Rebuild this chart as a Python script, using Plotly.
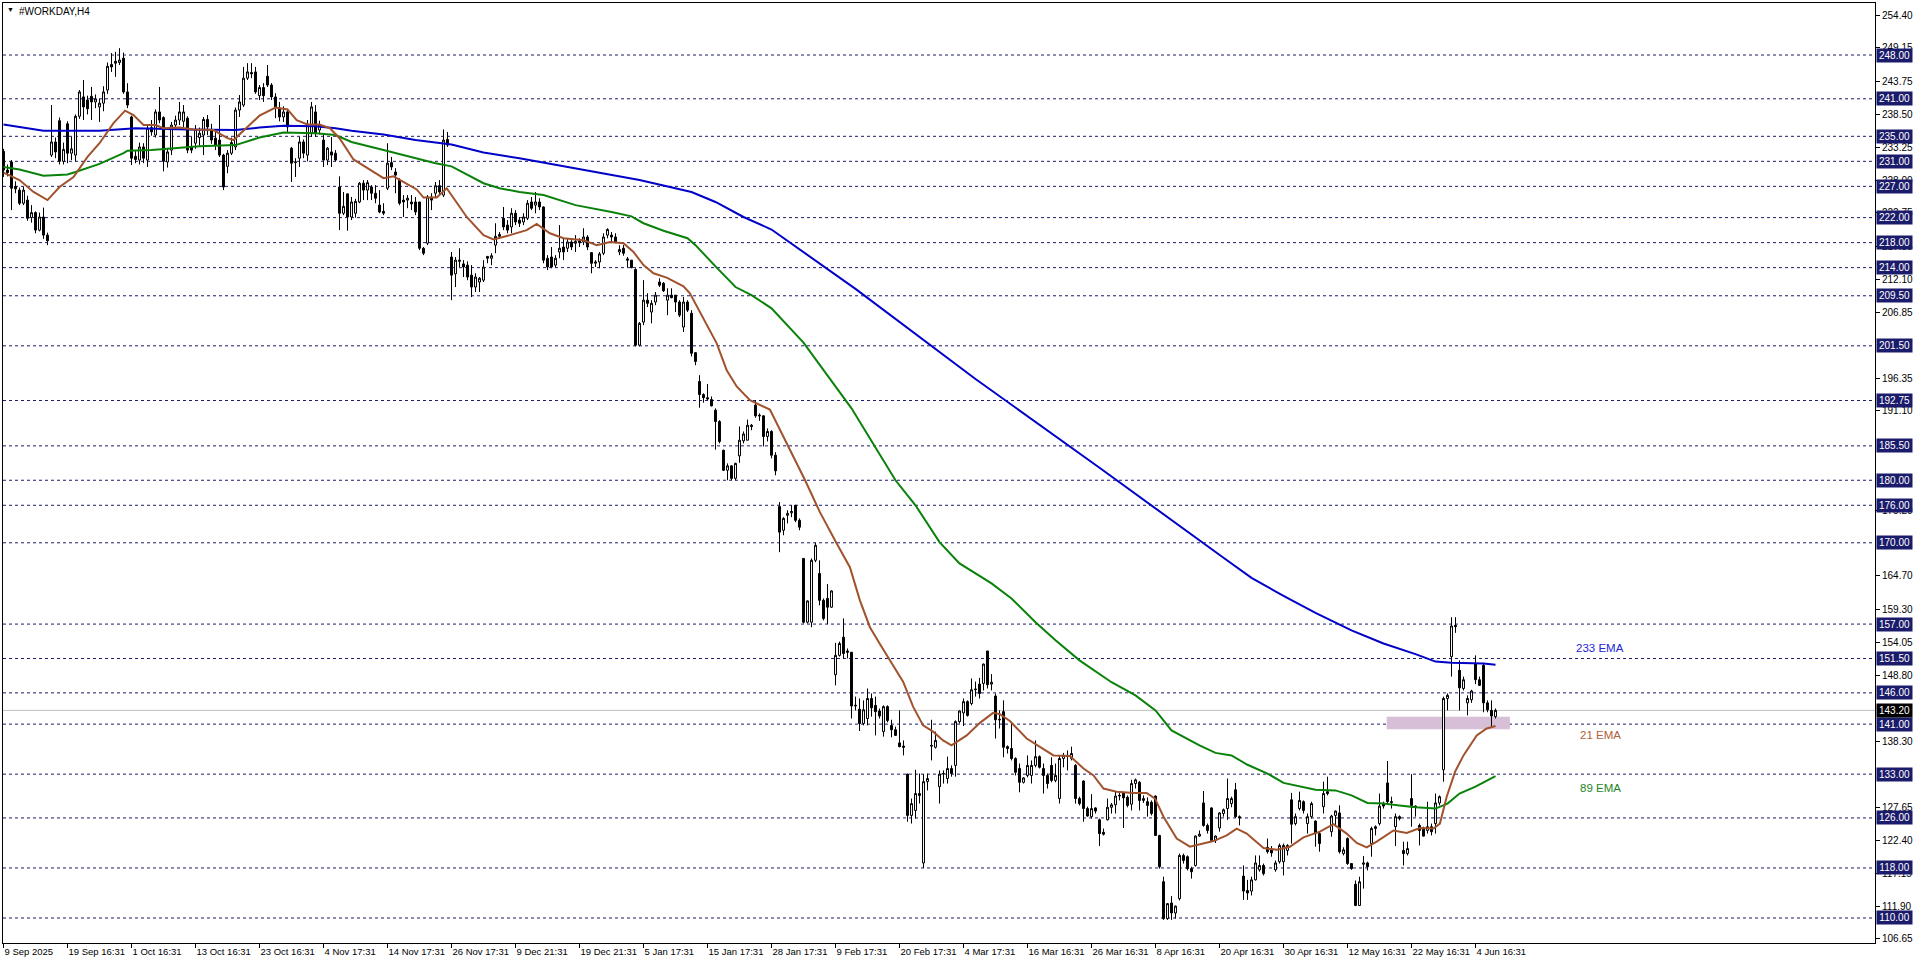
import plotly.graph_objects as go

# ---------------- data ----------------
opens = [
    232.6, 229.6, 230.9, 227.0, 226.4, 224.3, 224.8, 222.0, 222.8, 220.0,
    222.1, 219.2, 232.0, 234.1, 237.5, 231.0, 237.0, 232.3, 232.0, 238.2,
    241.3, 240.8, 241.4, 240.5, 239.7, 240.3, 242.4, 246.5, 247.0, 246.8,
    247.5, 242.1, 238.1, 231.8, 231.2, 233.3, 231.2, 236.4, 235.2, 238.9,
    238.0, 230.9, 232.8, 236.8, 237.6, 237.4, 237.9, 233.3, 233.9, 234.8,
    235.2, 237.7, 236.0, 234.7, 234.4, 232.0, 230.2, 232.3, 233.3, 239.2,
    240.0, 244.3, 245.2, 245.3, 241.5, 242.8, 244.6, 243.2, 241.3, 239.5,
    238.1, 238.9, 233.1, 230.8, 231.5, 234.1, 232.0, 235.5, 238.9, 236.0,
    234.4, 231.2, 232.5, 232.3, 226.9, 222.7, 225.8, 222.1, 222.7, 224.5,
    227.5, 226.4, 226.9, 225.9, 224.0, 223.0, 226.7, 230.8, 229.3, 228.0,
    224.8, 224.8, 224.5, 224.5, 224.5, 217.1, 217.9, 225.3, 225.9, 227.1,
    225.6, 234.5, 215.7, 213.0, 215.0, 214.6, 214.4, 212.8, 210.9, 211.7,
    212.0, 215.8, 215.5, 217.6, 219.0, 221.9, 220.8, 220.5, 222.7, 221.6,
    221.3, 221.9, 224.5, 224.0, 224.5, 223.7, 215.5, 215.7, 214.4, 216.5,
    217.3, 217.1, 218.1, 217.9, 218.3, 218.1, 218.9, 216.4, 214.7, 214.9,
    216.3, 219.2, 219.2, 218.9, 216.5, 217.1, 215.4, 215.2, 213.7, 201.6,
    205.3, 208.8, 206.9, 208.5, 211.7, 211.5, 208.8, 209.6, 209.6, 208.5,
    204.5, 208.5, 206.7, 200.4, 195.8, 193.7, 193.2, 192.9, 191.2, 189.4,
    184.8, 181.6, 182.3, 180.3, 183.9, 186.3, 186.4, 188.8, 192.0, 190.4,
    190.3, 187.0, 187.8, 184.0, 175.8, 172.0, 174.4, 174.8, 176.0, 173.6,
    167.5, 157.3, 157.3, 167.2, 165.1, 160.8, 161.1, 159.7, 148.9, 152.0,
    154.9, 152.7, 152.5, 143.9, 143.4, 141.1, 141.9, 145.1, 144.0, 143.1,
    139.8, 143.8, 140.8, 140.1, 138.0, 137.5, 133.0, 126.4, 127.2, 129.9,
    118.8, 131.8, 137.6, 137.3, 131.0, 133.0, 132.3, 133.9, 134.4, 141.4,
    142.8, 144.6, 144.3, 146.5, 147.4, 147.5, 152.7, 147.4, 145.5, 141.8,
    143.0, 137.4, 137.1, 135.5, 133.9, 131.7, 132.8, 132.8, 134.4, 135.8,
    133.9, 132.8, 134.4, 132.0, 129.1, 135.5, 136.0, 135.5, 134.4, 129.1,
    131.9, 127.5, 126.2, 127.6, 125.7, 123.7, 125.7, 127.7, 128.1, 129.5,
    130.0, 129.3, 128.2, 131.5, 131.7, 128.8, 128.6, 128.5, 129.5, 123.2,
    115.8, 109.9, 112.4, 110.8, 113.1, 120.0, 119.8, 117.9, 118.4, 123.1,
    128.4, 124.8, 127.6, 122.4, 124.4, 126.7, 127.5, 128.3, 130.5, 126.2,
    116.7, 114.4, 114.3, 116.1, 117.7, 118.4, 121.3, 121.0, 117.7, 119.0,
    119.0, 120.8, 128.9, 125.1, 127.5, 128.6, 125.1, 126.2, 125.5, 123.5,
    127.8, 130.2, 123.8, 126.4, 126.8, 120.3, 122.7, 118.7, 115.4, 112.0,
    118.6, 118.8, 121.9, 124.3, 125.1, 128.3, 131.6, 128.6, 124.6, 126.2,
    120.8, 120.3, 129.1, 127.9, 124.8, 124.3, 124.0, 124.6, 125.1, 128.4,
    133.7, 145.1, 151.8, 156.8, 149.6, 146.7, 144.4, 144.9, 150.7, 148.1,
    150.4, 144.4, 143.2, 142.2,
]
highs = [
    233.0, 230.5, 231.2, 227.8, 226.8, 226.9, 225.5, 224.0, 223.0, 222.8,
    223.6, 219.6, 240.0, 234.8, 238.0, 234.0, 237.4, 234.9, 238.5, 242.4,
    244.0, 241.5, 242.9, 241.7, 241.0, 243.0, 246.8, 248.3, 248.5, 249.1,
    248.4, 243.5, 238.3, 232.8, 234.0, 233.9, 236.8, 237.6, 239.3, 242.9,
    238.2, 233.0, 237.3, 238.3, 240.5, 240.0, 238.2, 234.9, 236.8, 236.4,
    238.1, 238.4, 237.0, 236.0, 240.0, 232.2, 232.8, 234.8, 239.6, 241.6,
    246.1, 246.7, 246.7, 246.1, 243.2, 243.5, 246.4, 243.5, 241.9, 240.5,
    239.8, 239.4, 233.3, 231.5, 234.9, 234.5, 237.6, 240.5, 240.0, 237.5,
    235.5, 233.3, 234.9, 232.8, 228.6, 226.1, 225.8, 225.3, 225.0, 227.7,
    228.0, 228.0, 227.2, 227.2, 226.4, 224.3, 233.9, 231.7, 229.9, 228.3,
    225.6, 225.6, 225.6, 225.3, 224.5, 217.3, 225.6, 225.9, 227.7, 228.0,
    236.1, 235.7, 216.5, 215.7, 217.1, 215.2, 215.0, 214.4, 213.1, 212.5,
    215.2, 215.8, 216.3, 221.1, 219.7, 223.7, 221.6, 223.5, 223.2, 222.1,
    222.7, 224.8, 225.3, 226.1, 225.1, 223.8, 216.0, 217.3, 216.0, 220.8,
    218.7, 218.7, 218.4, 219.2, 218.7, 220.3, 219.2, 216.5, 215.2, 216.5,
    219.5, 220.3, 219.7, 219.5, 217.6, 217.6, 215.7, 215.2, 213.9, 205.3,
    212.0, 209.9, 208.8, 210.1, 212.3, 211.7, 210.7, 210.7, 209.6, 208.8,
    209.3, 208.8, 207.2, 200.5, 196.8, 193.9, 195.4, 193.4, 191.5, 189.6,
    184.9, 182.7, 182.4, 182.8, 188.6, 187.8, 189.7, 189.0, 192.8, 190.7,
    190.4, 188.3, 188.0, 184.5, 176.5, 174.1, 175.2, 176.0, 176.0, 173.9,
    167.5, 160.8, 167.5, 170.0, 167.2, 161.1, 163.4, 162.4, 154.0, 154.2,
    157.9, 153.1, 152.5, 145.4, 145.1, 144.8, 146.7, 145.9, 145.4, 143.5,
    144.0, 144.0, 141.7, 140.6, 143.2, 138.4, 133.1, 129.1, 133.7, 133.1,
    133.0, 133.1, 141.7, 139.8, 133.6, 133.6, 135.8, 134.4, 141.6, 143.2,
    145.1, 144.8, 148.3, 147.8, 148.4, 150.7, 152.7, 149.0, 145.9, 143.2,
    144.8, 137.6, 141.1, 135.7, 134.7, 132.5, 136.0, 135.2, 138.4, 136.0,
    134.7, 133.1, 135.7, 134.7, 136.0, 136.4, 136.8, 137.4, 134.6, 129.4,
    132.0, 127.8, 129.8, 127.7, 125.9, 124.3, 129.1, 128.4, 130.3, 130.3,
    130.1, 129.6, 132.1, 132.3, 131.9, 129.6, 129.3, 128.8, 129.6, 123.3,
    116.6, 112.4, 113.5, 112.0, 120.3, 120.3, 120.0, 118.2, 123.2, 124.0,
    130.3, 125.1, 127.7, 123.2, 126.9, 127.5, 132.3, 129.4, 131.6, 126.4,
    118.4, 116.1, 116.6, 120.0, 120.0, 118.7, 122.7, 121.5, 119.2, 121.9,
    121.9, 121.8, 130.0, 126.7, 130.2, 128.8, 126.7, 128.6, 125.6, 123.8,
    131.8, 132.6, 126.5, 127.2, 128.0, 121.3, 122.9, 118.8, 116.0, 116.6,
    119.9, 119.0, 124.6, 124.8, 129.9, 128.6, 135.1, 129.4, 126.7, 126.4,
    122.2, 122.2, 133.0, 128.0, 125.1, 124.6, 128.6, 125.1, 129.9, 129.6,
    145.4, 145.9, 158.1, 158.1, 151.2, 148.6, 145.6, 146.5, 152.0, 148.6,
    150.7, 144.8, 144.8, 143.5,
]
lows = [
    228.5, 228.6, 223.2, 225.9, 224.0, 224.0, 221.5, 221.2, 219.5, 219.8,
    218.6, 217.6, 231.7, 231.5, 230.5, 230.5, 230.7, 231.2, 231.0, 237.8,
    237.6, 238.5, 237.6, 239.5, 237.3, 239.0, 241.8, 245.3, 244.5, 246.4,
    241.8, 239.5, 230.4, 230.7, 230.5, 230.7, 230.1, 235.1, 234.8, 237.1,
    229.4, 230.0, 232.0, 236.0, 236.8, 236.5, 232.3, 232.3, 233.0, 233.5,
    232.0, 235.2, 233.8, 232.8, 231.7, 226.4, 229.1, 232.0, 232.8, 238.1,
    239.7, 244.0, 244.3, 241.8, 240.8, 240.5, 242.9, 240.8, 237.9, 237.4,
    237.3, 235.7, 227.7, 228.5, 230.1, 231.5, 231.0, 234.9, 234.9, 235.3,
    230.1, 230.4, 230.1, 231.0, 220.0, 222.4, 219.9, 221.6, 222.0, 224.3,
    224.8, 224.8, 224.8, 224.3, 222.7, 222.4, 226.4, 229.6, 225.9, 224.0,
    222.1, 223.5, 223.2, 222.4, 216.8, 216.0, 217.6, 223.2, 225.3, 225.6,
    225.3, 233.3, 208.8, 210.9, 214.1, 212.5, 212.0, 209.3, 210.1, 210.1,
    211.7, 214.7, 214.4, 216.3, 218.7, 220.0, 219.5, 219.5, 220.8, 220.5,
    220.8, 221.6, 223.2, 222.7, 223.2, 214.7, 213.6, 213.9, 214.0, 215.5,
    215.2, 216.5, 216.8, 216.5, 217.3, 217.6, 216.8, 213.1, 214.1, 213.9,
    216.0, 218.7, 218.1, 217.9, 216.0, 215.9, 214.1, 213.9, 201.4, 201.4,
    204.8, 207.7, 205.1, 208.0, 210.9, 210.1, 206.4, 209.1, 206.9, 206.1,
    203.7, 206.9, 199.8, 198.4, 191.6, 192.4, 192.8, 191.8, 184.9, 185.9,
    181.5, 180.0, 180.0, 180.0, 182.8, 185.9, 186.4, 188.0, 190.0, 189.5,
    185.4, 186.2, 183.5, 180.8, 168.5, 171.2, 173.1, 174.1, 173.3, 172.0,
    157.1, 157.1, 156.5, 166.9, 160.0, 157.6, 157.0, 159.6, 147.2, 151.8,
    151.5, 151.5, 141.9, 143.2, 139.9, 140.8, 140.8, 142.2, 139.2, 141.9,
    139.0, 141.3, 138.9, 139.1, 137.3, 136.0, 125.4, 125.1, 125.9, 128.3,
    118.0, 130.4, 135.2, 137.1, 128.3, 131.5, 131.5, 132.6, 132.6, 141.1,
    140.7, 142.2, 144.0, 145.4, 145.1, 146.4, 146.7, 146.4, 138.7, 140.3,
    135.7, 136.3, 135.2, 132.8, 130.1, 131.5, 132.5, 131.5, 134.1, 133.9,
    129.9, 130.7, 131.7, 131.7, 128.3, 134.1, 133.6, 135.2, 128.3, 128.0,
    125.4, 126.2, 125.9, 126.7, 121.5, 123.2, 125.6, 126.7, 126.7, 128.8,
    124.4, 127.7, 127.2, 130.7, 127.2, 128.4, 126.2, 126.4, 123.1, 117.9,
    109.7, 109.7, 109.7, 109.9, 112.8, 118.7, 117.6, 116.3, 118.2, 123.0,
    124.6, 123.5, 122.2, 122.0, 123.8, 126.2, 125.7, 127.7, 126.0, 124.8,
    112.9, 112.9, 113.6, 116.0, 117.4, 116.8, 120.3, 119.8, 117.4, 118.7,
    116.8, 120.0, 121.9, 124.8, 127.2, 126.7, 123.5, 125.9, 121.4, 120.6,
    126.7, 129.6, 123.0, 124.6, 120.3, 120.0, 118.5, 117.7, 111.9, 111.9,
    114.7, 117.6, 119.8, 123.2, 124.8, 127.5, 128.3, 127.5, 121.5, 125.6,
    118.4, 120.0, 124.6, 126.2, 121.6, 123.0, 123.5, 123.2, 123.5, 128.0,
    131.8, 143.2, 148.6, 155.6, 143.2, 146.4, 142.4, 144.4, 147.4, 147.1,
    142.9, 142.9, 140.6, 141.9,
]
closes = [
    229.6, 229.2, 226.7, 226.6, 224.3, 226.4, 221.9, 222.8, 220.0, 222.1,
    219.2, 218.3, 234.1, 232.5, 231.0, 232.9, 232.3, 233.0, 238.2, 242.1,
    239.7, 239.4, 240.5, 241.0, 240.3, 242.1, 246.2, 246.1, 246.7, 247.2,
    242.1, 240.0, 231.5, 231.3, 233.3, 231.5, 236.3, 235.7, 238.9, 237.6,
    231.0, 232.5, 236.8, 237.6, 238.9, 238.9, 232.8, 232.8, 236.1, 235.5,
    237.7, 236.5, 234.4, 233.6, 232.0, 226.9, 232.3, 234.0, 239.2, 240.5,
    244.3, 245.3, 245.0, 242.1, 242.8, 241.5, 243.2, 241.3, 239.7, 238.1,
    238.9, 236.5, 230.7, 230.9, 234.1, 232.3, 236.8, 239.7, 235.5, 236.8,
    231.2, 233.1, 232.0, 231.2, 222.7, 223.8, 222.1, 224.5, 224.6, 227.5,
    226.4, 227.6, 225.9, 225.1, 222.9, 222.7, 230.7, 230.1, 228.8, 224.3,
    224.5, 225.1, 224.2, 222.9, 217.1, 216.3, 225.3, 224.8, 227.1, 226.1,
    234.4, 233.6, 212.8, 215.2, 215.2, 214.1, 212.5, 210.9, 212.5, 212.3,
    214.1, 215.5, 215.9, 219.0, 219.3, 220.5, 220.0, 222.7, 221.3, 221.1,
    222.1, 224.3, 223.5, 224.5, 223.7, 215.2, 214.1, 214.1, 215.5, 217.1,
    216.5, 218.1, 217.3, 218.2, 218.0, 218.9, 217.3, 214.7, 214.9, 216.2,
    218.9, 220.1, 218.9, 218.1, 216.9, 216.3, 215.2, 214.0, 201.6, 205.1,
    208.8, 208.3, 208.3, 209.6, 211.2, 210.3, 209.6, 209.2, 208.5, 206.4,
    208.5, 207.2, 200.3, 199.0, 193.7, 193.2, 193.0, 191.9, 189.4, 186.2,
    181.6, 182.3, 180.3, 182.7, 186.4, 187.4, 188.8, 188.6, 190.3, 190.3,
    187.0, 187.8, 184.0, 181.5, 171.7, 173.9, 174.7, 175.0, 173.6, 172.5,
    157.3, 160.7, 167.2, 169.6, 160.8, 157.9, 159.7, 162.3, 152.0, 153.9,
    152.3, 152.5, 143.9, 144.0, 141.1, 143.3, 145.1, 143.6, 143.0, 142.3,
    143.8, 141.6, 140.1, 139.2, 137.4, 137.3, 126.4, 128.3, 129.9, 129.6,
    131.8, 132.3, 137.5, 138.4, 133.0, 133.1, 133.9, 133.1, 141.4, 143.1,
    144.6, 142.4, 146.5, 146.6, 145.9, 150.6, 147.3, 147.7, 141.7, 141.7,
    137.3, 137.1, 135.5, 133.3, 131.7, 132.4, 134.4, 134.4, 135.8, 134.1,
    132.8, 131.5, 132.0, 132.8, 135.5, 136.0, 135.8, 136.3, 129.1, 128.3,
    127.5, 126.3, 127.5, 127.1, 123.5, 123.4, 127.7, 128.1, 129.5, 129.6,
    129.2, 128.0, 131.5, 132.1, 128.8, 129.1, 128.0, 126.7, 123.2, 118.2,
    109.9, 112.3, 110.8, 111.9, 120.0, 119.2, 117.9, 117.4, 123.1, 123.4,
    124.8, 124.0, 122.4, 123.1, 126.8, 127.3, 129.1, 129.1, 126.2, 126.0,
    114.3, 114.0, 116.1, 118.8, 118.4, 117.1, 120.6, 120.4, 118.8, 121.6,
    121.6, 121.6, 125.0, 126.2, 128.8, 127.2, 126.2, 128.3, 123.5, 121.9,
    129.9, 129.9, 126.3, 127.1, 120.6, 120.9, 118.7, 117.9, 112.0, 115.8,
    118.8, 118.2, 124.3, 124.6, 127.9, 127.9, 128.6, 128.5, 126.2, 125.9,
    120.3, 121.1, 128.0, 127.7, 124.0, 123.1, 124.6, 123.8, 128.4, 129.4,
    145.1, 145.6, 156.7, 156.6, 146.8, 148.1, 145.1, 146.3, 148.1, 147.2,
    144.4, 143.3, 142.3, 143.2,
]

x_tick_bars = [0, 16, 32, 48, 64, 80, 96, 112, 128, 144, 160, 176, 192, 208,
               224, 240, 256, 272, 288, 304, 320, 336, 352, 368]
x_tick_labels = ["9 Sep 2025", "19 Sep 16:31", "1 Oct 16:31", "13 Oct 16:31",
                 "23 Oct 16:31", "4 Nov 17:31", "14 Nov 17:31", "26 Nov 17:31",
                 "9 Dec 21:31", "19 Dec 21:31", "5 Jan 17:31", "15 Jan 17:31",
                 "28 Jan 17:31", "9 Feb 17:31", "20 Feb 17:31", "4 Mar 17:31",
                 "16 Mar 16:31", "26 Mar 16:31", "8 Apr 16:31", "20 Apr 16:31",
                 "30 Apr 16:31", "12 May 16:31", "22 May 16:31", "4 Jun 16:31"]

# price-scale labels that remain (partly) visible beside the level boxes
y_tick_vals = [254.40, 249.15, 243.75, 238.50, 233.25, 228.00, 222.75, 217.35,
               212.10, 206.85, 196.35, 191.10, 175.20, 164.70, 159.30, 154.05,
               148.80, 138.30, 127.65, 122.40, 117.15, 111.90, 106.65]

level_prices = [248.00, 241.00, 235.00, 231.00, 227.00, 222.00, 218.00, 214.00,
                209.50, 201.50, 192.75, 185.50, 180.00, 176.00, 170.00, 157.00,
                151.50, 146.00, 141.00, 133.00, 126.00, 118.00, 110.00]
current_price = 143.20

ema233_x = [0, 10, 24, 33, 46, 58, 64, 70, 78, 83, 87, 95, 103, 112, 120, 129,
            159, 172, 178, 185, 192, 213, 243, 274, 305, 312, 320, 328, 337,
            345, 353, 358, 362, 370, 373]
ema233_y = [236.9, 235.9, 235.9, 236.3, 236.1, 236.0, 236.4, 236.7, 236.6, 236.3,
            235.9, 235.3, 234.4, 233.7, 232.4, 231.5, 228.0, 226.1, 224.5, 222.1,
            220.1, 210.6, 196.2, 182.0, 167.6, 164.4, 161.5, 158.8, 156.0, 153.9,
            152.2, 151.0, 150.8, 150.7, 150.5]

ema89_x = [0, 4, 10, 16, 18, 24, 30, 31, 37, 43, 49, 58, 64, 70, 78, 83, 87, 95,
           103, 108, 112, 120, 124, 129, 135, 143, 152, 157, 160, 165, 171, 173,
           178, 183, 187, 192, 200, 212, 223, 228, 234, 239, 247, 252, 258, 263,
           269, 277, 283, 288, 292, 299, 303, 307, 311, 316, 320, 328, 333, 337,
           341, 345, 349, 353, 358, 361, 364, 368, 373]
ema89_y = [230.1, 229.7, 228.7, 228.9, 229.3, 230.6, 232.3, 232.7, 232.8, 233.1,
           233.4, 233.6, 234.8, 235.6, 235.5, 235.2, 234.1, 232.8, 231.5, 230.7,
           230.2, 227.5, 226.7, 226.1, 225.6, 224.0, 222.9, 222.2, 221.1, 219.9,
           218.7, 217.6, 214.2, 210.9, 209.6, 207.5, 202.0, 191.5, 180.0, 176.0,
           170.1, 166.7, 163.5, 161.1, 157.3, 154.4, 151.2, 147.7, 145.6, 143.2,
           140.0, 137.6, 136.4, 136.0, 134.5, 133.1, 131.6, 130.5, 130.4, 129.6,
           128.4, 128.3, 128.0, 127.7, 127.5, 128.3, 129.9, 131.0, 132.7]

ema21_x = [0, 4, 7.5, 11, 14, 17.5, 21, 24, 27.5, 30.4, 32.5, 35, 38, 40, 44,
           47.5, 52.5, 56, 57.5, 60.8, 64, 68, 71, 73.3, 76, 79, 81.6, 84, 87.5,
           91, 95, 97.5, 100, 103.3, 105, 108.3, 110.8, 115.8, 120, 122.5, 126.6,
           130.8, 133.3, 136.6, 140, 145, 148.3, 151.6, 155, 157.5, 160, 162.5,
           165.8, 170, 171.6, 174.1, 178.3, 180.8, 183.3, 186.6, 191.6, 200.4,
           204.1, 208.3, 211.6, 214.1, 216.6, 219.1, 222.4, 224.9, 227.4, 229.9,
           232.4, 234.9, 237, 240.8, 244.1, 247.4, 249.1, 251.6, 255.8, 259.1,
           262.5, 266.6, 270, 272.5, 275, 278.3, 282.5, 285.8, 287.9, 290, 293.3,
           296.6, 299.1, 302.5, 305.8, 308.3, 310.8, 315, 318.3, 321.6, 325,
           329.1, 332.5, 335.8, 338.3, 340.8, 343.3, 347.5, 350.8, 354.1, 357.5,
           359.1, 360.8, 362.9, 365, 368.3, 370.8, 373]
ema21_y = [229.2, 228.0, 226.1, 224.8, 226.9, 228.5, 231.7, 233.9, 237.1, 239.1,
           238.4, 236.8, 236.8, 236.3, 236.4, 236.1, 236.0, 234.7, 234.4, 236.4,
           238.3, 239.6, 239.3, 237.6, 236.9, 236.9, 236.3, 234.7, 231.3, 229.9,
           228.3, 228.6, 227.7, 226.5, 225.2, 225.2, 226.7, 222.1, 219.2, 218.5,
           219.2, 220.0, 221.0, 219.5, 218.7, 218.4, 217.6, 218.1, 217.9, 216.5,
           214.4, 213.1, 212.4, 211.0, 209.9, 206.9, 201.9, 197.6, 195.0, 192.8,
           191.3, 180.0, 174.9, 169.9, 166.1, 160.8, 156.5, 153.8, 150.4, 147.8,
           143.8, 140.8, 139.8, 138.4, 137.6, 139.2, 141.2, 142.8, 142.6, 141.5,
           138.7, 137.3, 136.0, 135.9, 133.9, 132.8, 130.7, 130.2, 130.0, 130.0,
           129.1, 126.2, 122.7, 121.4, 121.8, 122.3, 123.2, 124.3, 123.5, 121.2,
           120.9, 121.4, 122.9, 123.8, 125.0, 123.5, 122.0, 121.3, 122.2, 124.0,
           123.6, 124.4, 124.3, 125.1, 129.4, 133.4, 136.0, 139.2, 140.3, 140.7]

zone_bars = [345.8, 376.6]
zone_prices = [140.2, 142.2]

n = len(closes)
if not (len(opens) == len(highs) == len(lows) == n):
    raise ValueError(f"length mismatch {len(opens)} {len(highs)} {len(lows)} {n}")
if len(ema233_x) != len(ema233_y) or len(ema89_x) != len(ema89_y) or len(ema21_x) != len(ema21_y):
    raise ValueError("ema length mismatch")
bars = list(range(n))

# ---------------- figure ----------------
FONT = "Liberation Sans, Arial, sans-serif"
NAVY = "#1B1B6B"
W, H = 1916, 963
L, R, T, B = 3, 41, 3, 20
PW, PH = W - L - R, H - T - B


def px_x(px):
    return (px - L) / PW


def px_y(py):
    return (H - B - py) / PH


fig = go.Figure()

fig.add_trace(go.Candlestick(
    x=bars, open=opens, high=highs, low=lows, close=closes,
    increasing=dict(line=dict(color="black", width=1), fillcolor="white"),
    decreasing=dict(line=dict(color="black", width=1), fillcolor="black"),
    whiskerwidth=0, hoverinfo="skip", showlegend=False,
))
fig.add_trace(go.Scatter(x=ema233_x, y=ema233_y, mode="lines",
                         line=dict(color="#0000C8", width=2), showlegend=False, hoverinfo="skip"))
fig.add_trace(go.Scatter(x=ema89_x, y=ema89_y, mode="lines",
                         line=dict(color="#0A820A", width=2), showlegend=False, hoverinfo="skip"))
fig.add_trace(go.Scatter(x=ema21_x, y=ema21_y, mode="lines",
                         line=dict(color="#A0522D", width=2), showlegend=False, hoverinfo="skip"))

shapes = []
shapes.append(dict(type="rect", xref="x", yref="y", x0=zone_bars[0], x1=zone_bars[1],
                   y0=zone_prices[0], y1=zone_prices[1], fillcolor="#D8BFD8",
                   line=dict(width=0), layer="below"))
for lv in level_prices:
    shapes.append(dict(type="line", xref="paper", yref="y", x0=0, x1=1, y0=lv, y1=lv,
                       line=dict(color=NAVY, width=1, dash="3px,3px"), layer="below"))
shapes.append(dict(type="line", xref="paper", yref="y", x0=0, x1=1, y0=current_price,
                   y1=current_price, line=dict(color="#C0C0C0", width=1), layer="below"))

annotations = []
for lv in level_prices:
    annotations.append(dict(xref="paper", yref="y", x=1, y=lv, xanchor="left", yanchor="middle",
                            xshift=1, text=f"{lv:.2f}", showarrow=False, bgcolor=NAVY,
                            font=dict(family=FONT, size=10, color="white"),
                            width=33, height=11, borderpad=1, align="center"))
annotations.append(dict(xref="paper", yref="y", x=1, y=current_price, xanchor="left",
                        yanchor="middle", xshift=1, text=f"{current_price:.2f}", showarrow=False,
                        bgcolor="black", font=dict(family=FONT, size=10, color="white"),
                        width=33, height=11, borderpad=1, align="center"))
annotations.append(dict(xref="paper", yref="paper", x=px_x(10), y=px_y(10), xanchor="center",
                        yanchor="middle", text="▼", showarrow=False,
                        font=dict(family=FONT, size=7, color="black")))
annotations.append(dict(xref="paper", yref="paper", x=px_x(17), y=px_y(11), xanchor="left",
                        yanchor="middle", text="#WORKDAY,H4", showarrow=False,
                        font=dict(family=FONT, size=10, color="black")))
annotations.append(dict(xref="paper", yref="paper", x=px_x(1600), y=px_y(648), xanchor="center",
                        yanchor="middle", text="233 EMA", showarrow=False,
                        font=dict(family=FONT, size=11.5, color="#2424D8")))
annotations.append(dict(xref="paper", yref="paper", x=px_x(1600), y=px_y(735), xanchor="center",
                        yanchor="middle", text="21 EMA", showarrow=False,
                        font=dict(family=FONT, size=11.5, color="#B0603A")))
annotations.append(dict(xref="paper", yref="paper", x=px_x(1600), y=px_y(788), xanchor="center",
                        yanchor="middle", text="89 EMA", showarrow=False,
                        font=dict(family=FONT, size=11.5, color="#1E861E")))

fig.update_layout(
    width=W, height=H,
    margin=dict(l=L, r=R, t=T, b=B, pad=0),
    paper_bgcolor="white", plot_bgcolor="white",
    showlegend=False, hovermode=False,
    boxgap=0.3,
    shapes=shapes, annotations=annotations,
    xaxis=dict(
        range=[-0.125, 467.875], tickmode="array", tickvals=x_tick_bars, ticktext=x_tick_labels,
        ticks="outside", ticklen=4, tickcolor="black", tickwidth=1,
        ticklabelposition="outside right", tickangle=0,
        showline=True, linecolor="black", linewidth=1, mirror=True,
        showgrid=False, zeroline=False, rangeslider=dict(visible=False),
        tickfont=dict(family=FONT, size=9.5, color="black"), fixedrange=True,
    ),
    yaxis=dict(
        side="right", range=[106.0, 256.32], tickmode="array", tickvals=y_tick_vals,
        ticktext=[f"{v:.2f}" for v in y_tick_vals],
        ticks="outside", ticklen=4, tickcolor="black", tickwidth=1,
        showline=True, linecolor="black", linewidth=1, mirror=True,
        showgrid=False, zeroline=False,
        tickfont=dict(family=FONT, size=10, color="black"), fixedrange=True,
    ),
)

fig.write_html("out.html")
